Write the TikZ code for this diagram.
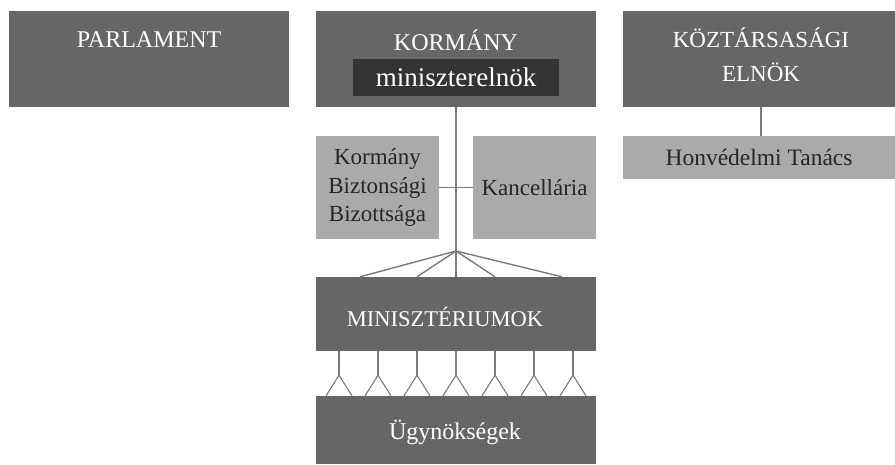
\documentclass[tikz,border=0pt]{standalone}
\usepackage{fontspec}
\setmainfont{Liberation Serif}
\usetikzlibrary{calc}
\definecolor{darkbox}{HTML}{666666}
\definecolor{innerbox}{HTML}{333333}
\definecolor{lightbox}{HTML}{AAAAAA}
\definecolor{linec}{HTML}{7A7A7A}
\begin{document}
\begin{tikzpicture}[x=1pt,y=-1pt,
  darkbox/.style={fill=darkbox,text=white,inner sep=0pt,align=center,font=\fontsize{24}{34}\selectfont},
  lightbox/.style={fill=lightbox,text=black!85,inner sep=0pt,align=center,font=\fontsize{23}{28.5}\selectfont},
  conn/.style={draw=linec,line width=1.4pt}]
\useasboundingbox (0,0) rectangle (895,465);
% top row
\node[darkbox,minimum width=280pt,minimum height=96pt] (parl) at (149,59) {};
\node[darkbox] at (149,40) {PARLAMENT};
\node[darkbox,minimum width=280pt,minimum height=96pt] (korm) at (456,59) {};
\node[darkbox] at (456,40) {KORMÁNY};
\node[fill=innerbox,text=white,inner sep=0pt,minimum width=206pt,minimum height=37pt,font=\fontsize{27}{28}\selectfont] (mini) at (456,77.5) {miniszterelnök};
\node[darkbox,minimum width=272pt,minimum height=96pt] (elnok) at (759,59) {};
\node[darkbox,font=\fontsize{23}{34}\selectfont] at (761,55) {KÖZTÁRSASÁGI\\ELNÖK};
\node[lightbox,minimum width=272pt,minimum height=43pt,font=\fontsize{23.5}{27}\selectfont] (honv) at (759,157.5) {Honvédelmi Tanács};
\draw[conn] (761,107) coordinate (e1) -- (761,136) coordinate (e2);
% middle
\node[lightbox,minimum width=123pt,minimum height=103pt] (kbb) at (377.5,187.5) {Kormány\\Biztonsági\\Bizottsága};
\node[lightbox,minimum width=123pt,minimum height=103pt] (kanc) at (534.5,187.5) {Kancellária};
\node[darkbox,minimum width=280pt,minimum height=74pt] (minist) at (456,314) {};
\node[darkbox,font=\fontsize{22.5}{24}\selectfont] at (445,317) {MINISZTÉRIUMOK};
\node[darkbox,minimum width=280pt,minimum height=68pt] (ugy) at (456,430) {};
\node[darkbox,font=\fontsize{24}{24}\selectfont] at (455,432) {Ügynökségek};
% connectors
\coordinate (fan) at (456,251);
\draw[conn] (korm.south) -- (minist.north);
\draw[conn] (kbb.east) -- (kanc.west);
\foreach \dx in {-96,-39,39,106} {
  \draw[conn] (fan) -- ($(minist.north)+(\dx,0)$);
}
\foreach \dx in {-117,-78,-39,0,39,78,117} {
  \coordinate (a) at ($(minist.south)+(\dx,0)$);
  \coordinate (b) at ($(a)+(0,24)$);
  \draw[conn,line width=1.1pt] (a) -- (b);
  \draw[conn,line width=1.1pt] ($(ugy.north)+(\dx-13,0)$) -- (b) -- ($(ugy.north)+(\dx+13,0)$);
}
\end{tikzpicture}
\end{document}
